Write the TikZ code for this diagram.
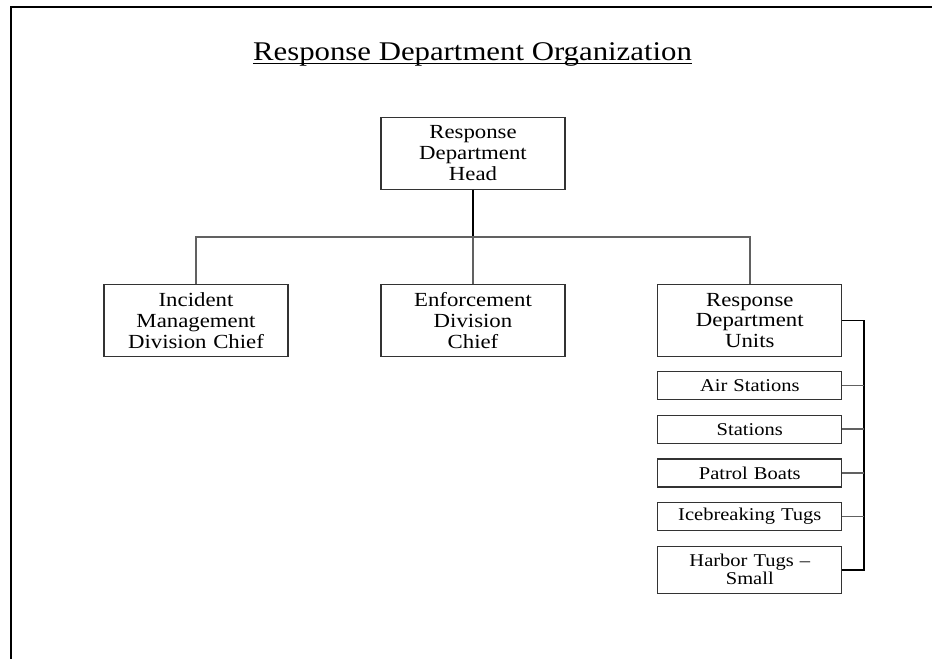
\documentclass[tikz,border=0pt]{standalone}
\usepackage{fontspec}
\setmainfont{Liberation Serif}[FakeStretch=1.14]
\begin{document}
\begin{tikzpicture}[x=1bp,y=-1bp,
  orgbox/.style={draw=black!80, line width=1.2bp, rectangle, inner sep=0pt,
    minimum width=184bp, minimum height=72bp, align=center, text width=182bp,
    font=\fontsize{20bp}{20.8bp}\selectfont},
  unitbox/.style={draw=black!80, line width=1.2bp, rectangle, inner sep=0pt,
    minimum width=184bp, minimum height=28bp, align=center, text width=182bp,
    font=\fontsize{18bp}{17.8bp}\selectfont},
  busline/.style={draw=black!62, line width=1.7bp},
  mainline/.style={draw=black, line width=1.9bp}]
\useasboundingbox (0,0) rectangle (932,659);
% frame
\draw[line width=2bp] (11,670) -- (11,7.5) -- (940,7.5);
% title
\node[anchor=base, inner sep=0pt, font=\fontsize{27bp}{30bp}\selectfont] (title) at (472.5,60.7) {Response Department Organization};
\draw[line width=1.4bp] ([yshift=-2.8bp]title.base west) -- ([yshift=-2.8bp]title.base east);
% boxes
\node[orgbox] (head) at (473,153.3) {Response\\Department\\Head};
\node[orgbox] (inc) at (196,320.5) {Incident\\Management\\Division Chief};
\node[orgbox] (enf) at (473,320.5) {Enforcement\\Division\\Chief};
\node[orgbox] (units) at (749.8,320.5) {Response\\Department\\Units};
\node[unitbox] (air) at (749.8,385.5) {Air Stations};
\node[unitbox] (sta) at (749.8,429.3) {Stations};
\node[unitbox] (pat) at (749.8,473) {Patrol Boats};
\node[unitbox] (ice) at (749.8,516.5) {Icebreaking Tugs};
\node[unitbox, minimum height=47bp] (har) at (749.8,569.7) {Harbor Tugs --\\Small};
% connectors
\coordinate (bus) at (473,236.7);
\coordinate (rb) at (864.3,320.5);
\draw[mainline] (head.south) -- (bus);
\draw[busline] (inc.north) |- (bus) -| (units.north);
\draw[busline] (bus) -- (enf.north);
\draw[mainline] (units.east) -- (rb) -- (rb |- har.east) -- (har.east);
\draw[busline] (air.east) -- (air.east -| rb);
\draw[busline] (sta.east) -- (sta.east -| rb);
\draw[busline] (pat.east) -- (pat.east -| rb);
\draw[busline] (ice.east) -- (ice.east -| rb);
\end{tikzpicture}
\end{document}
